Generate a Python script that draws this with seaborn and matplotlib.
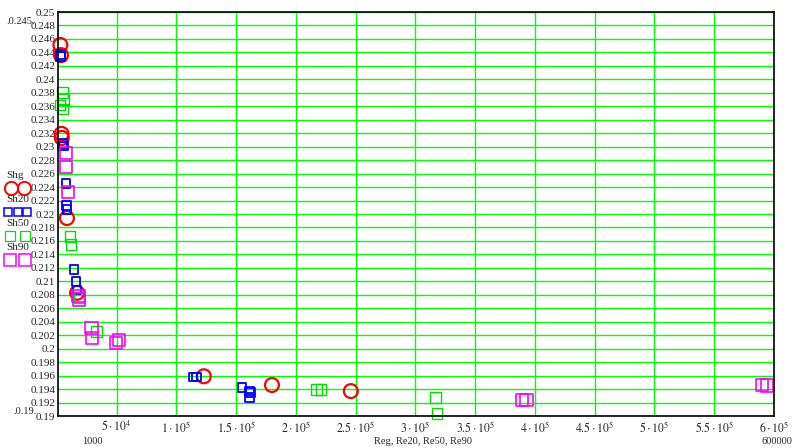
import matplotlib
matplotlib.use("Agg")
import matplotlib.pyplot as plt
from matplotlib.lines import Line2D
import numpy as np
import pandas as pd
import seaborn as sns

# Sherwood number vs Reynolds number for four series
shg_x = [3000, 3500, 4000, 4200, 8500, 17000, 123000, 180000, 246000]
shg_y = [0.2451, 0.2436, 0.2319, 0.2313, 0.2194, 0.2083, 0.1959, 0.1946, 0.1937]

sh20_x = [2800, 3300, 5000, 5500, 7700, 8300, 8500, 14400, 16000, 16900,
          114000, 117000, 155000, 161000, 162000, 161500]
sh20_y = [0.2437, 0.2434, 0.2305, 0.2301, 0.2245, 0.2213, 0.2207, 0.2117, 0.2100, 0.2087,
          0.1958, 0.1958, 0.1942, 0.1937, 0.1935, 0.1927]

sh50_x = [5000, 5500, 2700, 5200, 11000, 11900, 18600, 33000, 217000, 221000, 317000, 318000]
sh50_y = [0.2381, 0.2370, 0.2362, 0.2356, 0.2167, 0.2155, 0.2076, 0.2026,
          0.1939, 0.1939, 0.1928, 0.1904]

sh90_x = [7700, 7700, 9400, 18000, 18500, 29000, 29500, 49500, 52000,
          389000, 393000, 590000, 594000]
sh90_y = [0.2291, 0.2270, 0.2233, 0.2078, 0.2073, 0.2031, 0.2016, 0.2008, 0.2013,
          0.1924, 0.1924, 0.1946, 0.1945]

series_names = ["Shg", "Sh20", "Sh50", "Sh90"]
colors = ["#ff0000", "#0000ff", "#00e000", "#ff00ff"]
markers = ["o", "s", "s", "s"]
sizes = [100, 40, 60, 80]
widths = [1.6, 1.3, 1.0, 1.2]

x_min, x_max = 1000, 600000
y_min, y_max = 0.19, 0.25
x_ticks = [50000 * k for k in range(1, 13)]
x_tick_labels = [r"$5\cdot10^{4}$", r"$1\cdot10^{5}$", r"$1.5\cdot10^{5}$", r"$2\cdot10^{5}$",
                 r"$2.5\cdot10^{5}$", r"$3\cdot10^{5}$", r"$3.5\cdot10^{5}$", r"$4\cdot10^{5}$",
                 r"$4.5\cdot10^{5}$", r"$5\cdot10^{5}$", r"$5.5\cdot10^{5}$", r"$6\cdot10^{5}$"]
y_ticks = np.round(np.arange(0.19, 0.2501, 0.002), 3)
y_tick_labels = [("%.3f" % v).rstrip("0").rstrip(".") for v in y_ticks]

sns.set_theme(style="white")
plt.rcParams["font.family"] = ["Liberation Serif", "DejaVu Serif"]
plt.rcParams["mathtext.fontset"] = "stix"

W, H = 793, 448
fig = plt.figure(figsize=(W / 100, H / 100), dpi=100)
ax = fig.add_axes([58 / W, 1 - 416 / H, (774 - 58) / W, (416 - 12) / H])

frames = []
for name, xs, ys in zip(series_names, [shg_x, sh20_x, sh50_x, sh90_x],
                        [shg_y, sh20_y, sh50_y, sh90_y]):
    frames.append(pd.DataFrame({"Re": xs, "Sh": ys, "series": name}))
df = pd.concat(frames, ignore_index=True)

for name, c, m, s, lw in zip(series_names, colors, markers, sizes, widths):
    sub = df[df["series"] == name]
    sns.scatterplot(data=sub, x="Re", y="Sh", ax=ax, marker=m, s=s,
                    facecolor="none", edgecolor=c, linewidth=lw, zorder=3,
                    clip_on=False, legend=False)

ax.set_xlim(x_min, x_max)
ax.set_ylim(y_min, y_max)
ax.set_xticks(x_ticks)
ax.set_xticklabels(x_tick_labels, fontsize=8.5)
ax.set_yticks(y_ticks)
ax.set_yticklabels(y_tick_labels, fontsize=8)
ax.tick_params(axis="both", length=0, pad=2)
ax.tick_params(axis="x", pad=3)
ax.set_xlabel("")
ax.set_ylabel("")

for xv in x_ticks:
    ax.axvline(xv, color="#00ff00", lw=1.0, zorder=1)
for yv in y_ticks:
    ax.axhline(yv, color="#00ff00", lw=1.0, zorder=1)
for sp in ax.spines.values():
    sp.set_color("black")
    sp.set_linewidth(1.2)
    sp.set_zorder(4)

# axis annotations
def px(x, y):
    return x / W, 1 - y / H

fig.text(*px(6, 22), ".0.245.", fontsize=7.5, ha="left", va="center")
fig.text(*px(13, 411), ".0.19.", fontsize=7.5, ha="left", va="center")
fig.text(*px(92, 441), "1000", fontsize=7.5, ha="center", va="center")
fig.text(*px(423, 441), "Reg, Re20, Re50, Re90", fontsize=7.5, ha="center", va="center")
fig.text(*px(777, 441), "600000", fontsize=7.5, ha="center", va="center")

# legend block on the left
legend_rows = [
    ("Shg", 175, 188, [11, 24], 9.5, "o", 1.4),
    ("Sh20", 200, 212, [8, 17.5, 27], 5.8, "s", 1.1),
    ("Sh50", 223, 236, [10, 25], 7.0, "s", 0.9),
    ("Sh90", 247, 260, [10, 25], 8.5, "s", 1.1),
]
for (label, ty, my, mxs, ms, mk, lw), c in zip(legend_rows, colors):
    fig.text(*px(6, ty), label, fontsize=8, ha="left", va="center")
    for mx in mxs:
        fx, fy = px(mx, my)
        fig.add_artist(Line2D([fx], [fy], marker=mk, markersize=ms, linestyle="none",
                              markerfacecolor="none", markeredgecolor=c,
                              markeredgewidth=lw, transform=fig.transFigure))

fig.savefig("out.png", dpi=100)
